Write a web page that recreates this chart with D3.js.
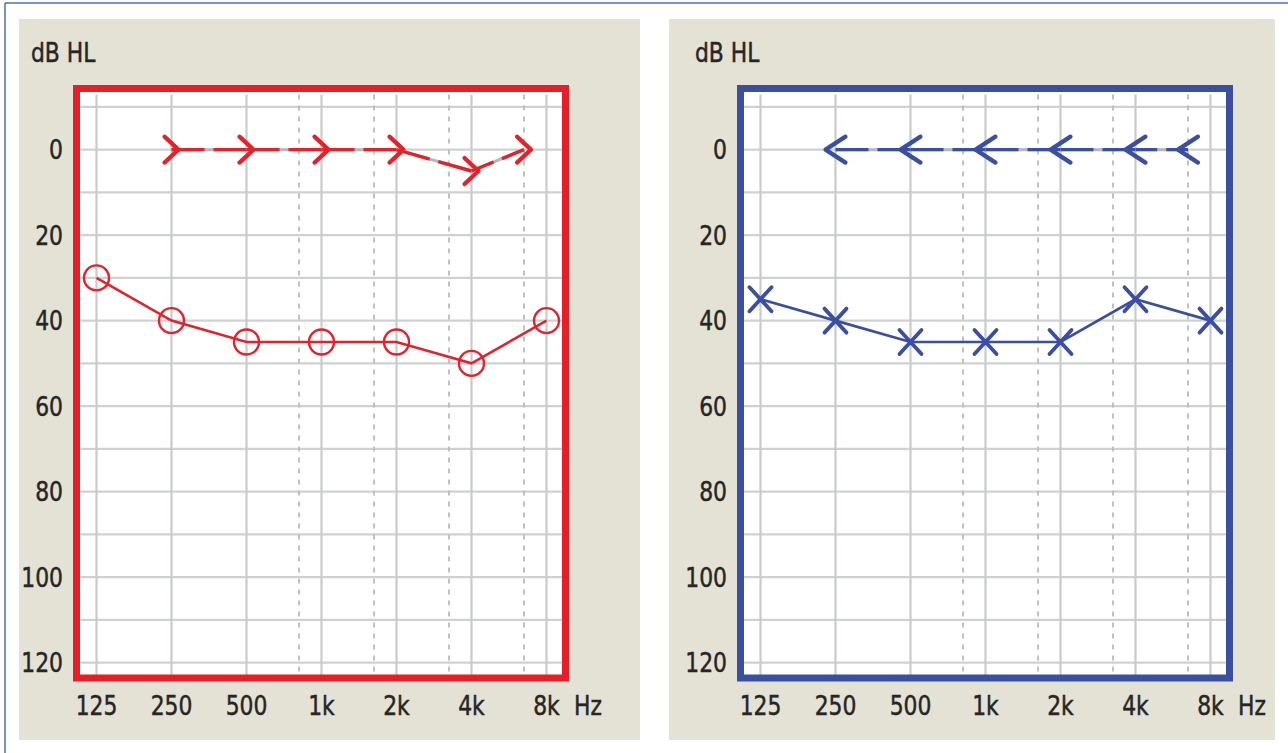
<!DOCTYPE html>
<html><head><meta charset="utf-8">
<script src="https://cdn.jsdelivr.net/npm/d3@7"></script>
<style>body{margin:0;background:#fff}svg{display:block}</style>
</head><body><svg id="c" width="1288" height="753"></svg>
<script>
// ---- data ----
const octaveFreqs = [125, 250, 500, 1000, 2000, 4000, 8000];
const freqLabels = ["125", "250", "500", "1k", "2k", "4k", "8k"];
const interOctaveFreqs = [750, 1500, 3000, 6000];
const dbTickValues = [0, 20, 40, 60, 80, 100, 120];
const dbGridValues = [-10, 0, 10, 20, 30, 40, 50, 60, 70, 80, 90, 100, 110, 120];

// right ear (red): air conduction "O", masked bone ">"
const rightAirFreqs = [125, 250, 500, 1000, 2000, 4000, 8000];
const rightAirDb = [30, 40, 45, 45, 45, 50, 40];
const rightBoneFreqs = [250, 500, 1000, 2000, 4000, 6000];
const rightBoneDb = [0, 0, 0, 0, 5, 0];

// left ear (blue): air conduction "X", masked bone "<"
const leftAirFreqs = [125, 250, 500, 1000, 2000, 4000, 8000];
const leftAirDb = [35, 40, 45, 45, 45, 35, 40];
const leftBoneFreqs = [250, 500, 1000, 2000, 4000, 6000];
const leftBoneDb = [0, 0, 0, 0, 0, 0];

// ---- helpers ----
const svg = d3.select("#c");
const FONT = "'DejaVu Sans Condensed','DejaVu Sans',sans-serif";
const TXT = "#262626";
const BEIGE = "#e4e2d4";

// audiometric frequency index: octaves at integers, inter-octave lines at +0.7
function audioIndex(f) {
  const o = Math.log2(f / 125);
  const base = Math.floor(o + 1e-6);
  return Math.abs(o - base) < 1e-6 ? base : base + 0.7;
}

// outer frame (top and left only visible)
svg.append("line").attr("x1", 5).attr("y1", 3).attr("x2", 1288).attr("y2", 3)
  .attr("stroke", "#4a72b0").attr("stroke-width", 1.5);
svg.append("line").attr("x1", 5).attr("y1", 3).attr("x2", 5).attr("y2", 753)
  .attr("stroke", "#4a72b0").attr("stroke-width", 1.5);

function label(g, txt, x, y, anchor, size) {
  return g.append("text")
    .attr("transform", `translate(${x},${y}) scale(0.9,1)`)
    .attr("text-anchor", anchor).attr("font-family", FONT).attr("font-size", size)
    .attr("fill", TXT).attr("stroke", TXT).attr("stroke-width", 0.45)
    .text(txt);
}

function drawPanel(cfg) {
  const g = svg.append("g").attr("transform", `translate(${cfg.dx},0)`);
  // panel background
  g.append("rect").attr("x", cfg.panelX).attr("y", 19).attr("width", cfg.panelW).attr("height", 721)
    .attr("fill", BEIGE);

  const x = d3.scaleLinear().domain([0, 6]).range([96.5, 546.5]);
  const xf = f => x(audioIndex(f));
  const y = d3.scaleLinear().domain([-15, 125]).range([85.5, 684]);

  const box = { x0: 76.5, x1: 565.5, y0: 88.5, y1: 678 };

  // plot area
  g.append("rect").attr("x", box.x0).attr("y", box.y0)
    .attr("width", box.x1 - box.x0).attr("height", box.y1 - box.y0).attr("fill", "#fff");

  // horizontal grid
  g.selectAll(".hg").data(dbGridValues).join("line")
    .attr("x1", box.x0).attr("x2", box.x1)
    .attr("y1", d => y(d)).attr("y2", d => y(d))
    .attr("stroke", "#cfd1d1").attr("stroke-width", 2.4);
  // inter-octave dashed grid
  g.selectAll(".vd").data(interOctaveFreqs).join("line")
    .attr("x1", d => xf(d)).attr("x2", d => xf(d))
    .attr("y1", box.y0 + 6).attr("y2", box.y1)
    .attr("stroke", "#b9bcbc").attr("stroke-width", 1.8).attr("stroke-dasharray", "5,6");
  // octave grid
  g.selectAll(".vg").data(octaveFreqs).join("line")
    .attr("x1", d => xf(d)).attr("x2", d => xf(d))
    .attr("y1", box.y0 + 6).attr("y2", box.y1)
    .attr("stroke", "#c9cbcb").attr("stroke-width", 2.2);

  // y tick labels
  dbTickValues.forEach(d => label(g, d, 63, y(d) + 9.5, "end", 27));
  // x tick labels
  octaveFreqs.forEach((d, i) => label(g, freqLabels[i], xf(d), 715, "middle", 27));
  label(g, "Hz", 574, 715, "start", 27);
  label(g, "dB HL", 31, 62, "start", 27);

  const col = cfg.color;
  // bone conduction connection: gray underlay + dashed coloured segments
  const bone = cfg.boneFreqs.map((f, i) => [xf(f), y(cfg.boneDb[i])]);
  for (let i = 0; i < bone.length - 1; i++) {
    const [a, b] = [bone[i], bone[i + 1]];
    const L = Math.hypot(b[0] - a[0], b[1] - a[1]);
    g.append("line").attr("x1", a[0]).attr("y1", a[1]).attr("x2", b[0]).attr("y2", b[1])
      .attr("stroke", "#b5b8b8").attr("stroke-width", 3);
    g.append("line").attr("x1", a[0]).attr("y1", a[1]).attr("x2", b[0]).attr("y2", b[1])
      .attr("stroke", col).attr("stroke-width", 3.4)
      .attr("stroke-dasharray", `${(L - 9) / 2},9,${L}`);
  }
  // bone symbols
  g.selectAll(".bs").data(bone).join("path")
    .attr("d", d => cfg.boneDir > 0
      ? `M${d[0] - 7},${d[1] - 13}L${d[0] + 7},${d[1]}L${d[0] - 7},${d[1] + 13}`
      : `M${d[0] + 10},${d[1] - 13}L${d[0] - 10},${d[1]}L${d[0] + 10},${d[1] + 13}`)
    .attr("fill", "none").attr("stroke", col).attr("stroke-width", 4.2)
    .attr("stroke-linecap", "round").attr("stroke-linejoin", "round");

  // air conduction line
  const air = cfg.airFreqs.map((f, i) => [xf(f), y(cfg.airDb[i])]);
  g.append("path").attr("d", d3.line()(air)).attr("fill", "none")
    .attr("stroke", col).attr("stroke-width", 2.6);
  if (cfg.airSymbol === "O") {
    g.selectAll(".as").data(air).join("circle")
      .attr("cx", d => d[0]).attr("cy", d => d[1]).attr("r", 12.5)
      .attr("fill", "none").attr("stroke", col).attr("stroke-width", 2.4);
  } else {
    g.selectAll(".as").data(air).join("path")
      .attr("d", d => `M${d[0] - 11},${d[1] - 12}L${d[0] + 11},${d[1] + 12}M${d[0] - 11},${d[1] + 12}L${d[0] + 11},${d[1] - 12}`)
      .attr("fill", "none").attr("stroke", col).attr("stroke-width", 3.8)
      .attr("stroke-linecap", "round");
  }

  // coloured frame
  g.append("rect").attr("x", box.x0).attr("y", box.y0)
    .attr("width", box.x1 - box.x0).attr("height", box.y1 - box.y0)
    .attr("fill", "none").attr("stroke", cfg.frame).attr("stroke-width", 7);
}

drawPanel({ dx: 0, panelX: 19, panelW: 621, color: "#e3222b", frame: "#e51e28",
  airFreqs: rightAirFreqs, airDb: rightAirDb, airSymbol: "O",
  boneFreqs: rightBoneFreqs, boneDb: rightBoneDb, boneDir: 1 });
drawPanel({ dx: 664, panelX: 5, panelW: 606, color: "#3a4ea2", frame: "#3a4fa0",
  airFreqs: leftAirFreqs, airDb: leftAirDb, airSymbol: "X",
  boneFreqs: leftBoneFreqs, boneDb: leftBoneDb, boneDir: -1 });
</script></body></html>
